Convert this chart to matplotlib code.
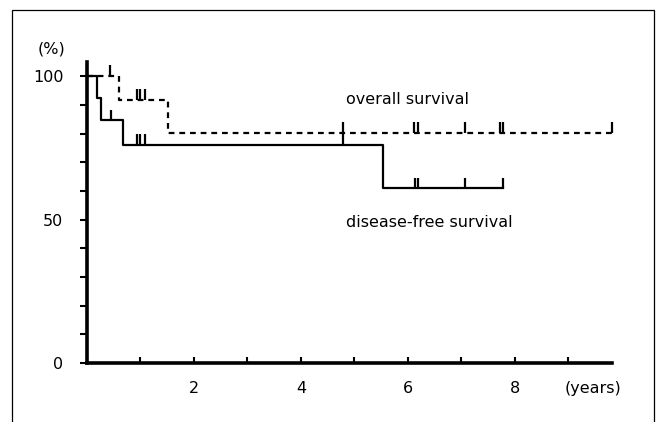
import matplotlib
matplotlib.use("Agg")
import matplotlib.pyplot as plt
from matplotlib.patches import Rectangle
from matplotlib.ticker import MultipleLocator

# Overall survival (dashed)
os_times = [0.0, 0.60, 1.52, 9.82]
os_values = [100.0, 91.7, 80.2, 80.2]
os_censor_t = [0.43, 0.93, 1.00, 1.09, 4.79, 6.11, 6.20, 7.07, 7.72, 7.78, 9.82]
os_censor_v = [100.0, 91.7, 91.7, 91.7, 80.2, 80.2, 80.2, 80.2, 80.2, 80.2, 80.2]

# Disease-free survival (solid)
dfs_times = [0.0, 0.18, 0.27, 0.68, 5.54, 7.78]
dfs_values = [100.0, 92.3, 84.6, 76.2, 60.9, 60.9]
dfs_censor_t = [0.44, 0.93, 1.00, 1.09, 4.79, 6.13, 6.20, 7.07, 7.78]
dfs_censor_v = [84.6, 76.2, 76.2, 76.2, 76.2, 60.9, 60.9, 60.9, 60.9]

x_major = [2, 4, 6, 8]
x_labels = ["2", "4", "6", "8"]
y_major = [0, 50, 100]
y_labels = ["0", "50", "100"]

FS = 11.5

fig = plt.figure(figsize=(6.57, 4.22), dpi=100)
W, H = 657, 422

# outer frame (open at the bottom)
fig.patches.append(Rectangle((12 / W, -0.1), (654 - 12) / W, 1.1 - 10 / H,
                             transform=fig.transFigure, fill=False,
                             edgecolor="black", linewidth=0.9))

ax = fig.add_axes([87 / W, (H - 363) / H, (612 - 87) / W, (363 - 62) / H])
ax.set_xlim(0, 9.82)
ax.set_ylim(0, 105)

for s in ["top", "right"]:
    ax.spines[s].set_visible(False)
for s in ["left", "bottom"]:
    ax.spines[s].set_linewidth(2.6)

ax.step(os_times, os_values, where="post", color="black", lw=1.6,
        linestyle=(0, (2.6, 2.2)), clip_on=False)
ax.step(dfs_times, dfs_values, where="post", color="black", lw=1.6,
        clip_on=False)

tick_h = 3.8
ax.vlines(os_censor_t, os_censor_v, [v + tick_h for v in os_censor_v],
          color="black", lw=1.6, clip_on=False)
ax.vlines(dfs_censor_t, dfs_censor_v, [v + tick_h for v in dfs_censor_v],
          color="black", lw=1.6, clip_on=False)

ax.set_xticks(x_major)
ax.set_xticklabels(x_labels)
ax.xaxis.set_minor_locator(MultipleLocator(1))
ax.tick_params(axis="x", which="both", direction="in", length=4, width=1.5,
               pad=13, labelsize=FS)
ax.set_yticks(y_major)
ax.set_yticklabels(y_labels)
ax.yaxis.set_minor_locator(MultipleLocator(10))
ax.tick_params(axis="y", which="both", direction="out", length=5, width=1.5,
               pad=12, labelsize=FS)

ax.text(-0.67, 109.5, "(%)", ha="center", va="center", fontsize=FS,
        clip_on=False)
ax.text(9.46, -8.9, "(years)", ha="center", va="center", fontsize=FS,
        clip_on=False)
ax.text(4.84, 92.0, "overall survival", ha="left", va="center", fontsize=FS)
ax.text(4.84, 49.0, "disease-free survival", ha="left", va="center",
        fontsize=FS)

fig.savefig("out.png", dpi=100)
